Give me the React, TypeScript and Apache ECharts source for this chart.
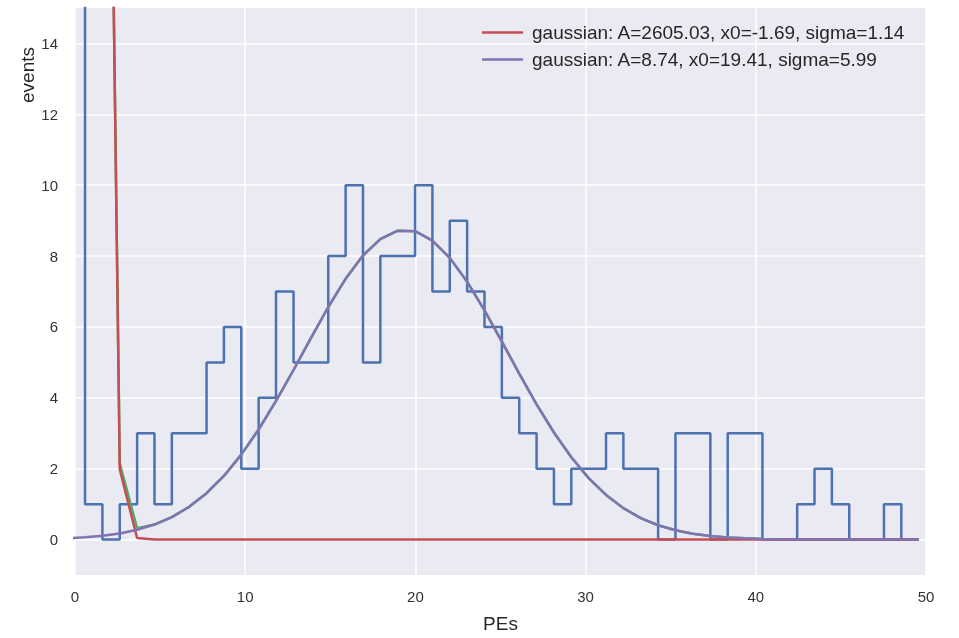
import React, { useEffect, useRef } from "react";
import * as echarts from "echarts";

// Histogram bin edges (PEs) and counts per bin
const binEdges = [
  -0.43, 0.59, 1.61, 2.63, 3.65, 4.67, 5.69, 6.71, 7.73, 8.75,
  9.77, 10.79, 11.81, 12.84, 13.86, 14.88, 15.9, 16.92, 17.94, 18.96,
  19.98, 21.0, 22.02, 23.04, 24.06, 25.08, 26.1, 27.12, 28.14, 29.16,
  30.18, 31.2, 32.22, 33.24, 34.26, 35.28, 36.3, 37.33, 38.35, 39.37,
  40.39, 41.41, 42.43, 43.45, 44.47, 45.49, 46.51, 47.53, 48.55, 49.57,
];
const binCounts = [
  1400, 1, 0, 1, 3, 1, 3, 3, 5, 6,
  2, 4, 7, 5, 5, 8, 10, 5, 8, 8,
  10, 7, 9, 7, 6, 4, 3, 2, 1, 2,
  2, 3, 2, 2, 0, 3, 3, 0, 3, 3,
  0, 0, 1, 2, 1, 0, 0, 1, 0,
];
// Fit curves sampled at the bin edges
const fitPedestal = [
  1414.3, 352.5, 39.4, 1.98, 0.044, 0.0005, 0, 0, 0, 0,
  0, 0, 0, 0, 0, 0, 0, 0, 0, 0,
  0, 0, 0, 0, 0, 0, 0, 0, 0, 0,
  0, 0, 0, 0, 0, 0, 0, 0, 0, 0,
  0, 0, 0, 0, 0, 0, 0, 0, 0, 0,
];
const fitSignal = [
  0.036, 0.063, 0.106, 0.173, 0.275, 0.424, 0.635, 0.924, 1.308, 1.795,
  2.397, 3.106, 3.912, 4.785, 5.686, 6.563, 7.358, 8.015, 8.48, 8.715,
  8.701, 8.438, 7.949, 7.275, 6.467, 5.584, 4.685, 3.817, 3.021, 2.323,
  1.735, 1.259, 0.887, 0.607, 0.404, 0.261, 0.164, 0.1, 0.059, 0.034,
  0.019, 0.01, 0.005, 0.003, 0.001, 0.001, 0, 0, 0, 0,
];
const fitSum = [
  1414.34, 352.56, 39.51, 2.15, 0.319, 0.424, 0.635, 0.924, 1.308, 1.795,
  2.397, 3.106, 3.912, 4.785, 5.686, 6.563, 7.358, 8.015, 8.48, 8.715,
  8.701, 8.438, 7.949, 7.275, 6.467, 5.584, 4.685, 3.817, 3.021, 2.323,
  1.735, 1.259, 0.887, 0.607, 0.404, 0.261, 0.164, 0.1, 0.059, 0.034,
  0.019, 0.01, 0.005, 0.003, 0.001, 0.001, 0, 0, 0, 0,
];
const yTicks = [0, 2, 4, 6, 8, 10, 12, 14];
const legendNames = [
  "gaussian: A=2605.03, x0=-1.69, sigma=1.14",
  "gaussian: A=8.74, x0=19.41, sigma=5.99",
];

const FONT = '"Liberation Sans", Arial, sans-serif';

export default function App() {
  const ref = useRef<HTMLDivElement>(null);
  useEffect(() => {
    const chart = echarts.init(ref.current!, null, { renderer: "svg" });
    const stepPts: number[][] = [[binEdges[0], 0]];
    binCounts.forEach((c, i) => {
      stepPts.push([binEdges[i], c]);
      stepPts.push([binEdges[i + 1], c]);
    });
    stepPts.push([binEdges[binEdges.length - 1], 0]);
    const curve = (vals: number[]) => binEdges.map((x, i) => [x, vals[i]]);
    const lineSeries = (name: string, color: string, data: number[][], z: number) => ({
      type: "line",
      name,
      data,
      showSymbol: false,
      symbol: "none",
      clip: true,
      z,
      lineStyle: { color, width: 2.5 },
      itemStyle: { color },
      emphasis: { disabled: true },
    });
    chart.setOption({
      animation: false,
      textStyle: { fontFamily: FONT },
      grid: {
        left: 75,
        right: 33,
        top: 8,
        bottom: 59,
        show: true,
        backgroundColor: "#EAEAF2",
        borderWidth: 0,
      },
      legend: {
        data: legendNames,
        orient: "vertical",
        left: 477,
        top: 17,
        icon: "rect",
        itemWidth: 41,
        itemHeight: 2.5,
        itemGap: 6,
        textStyle: { fontSize: 19, lineHeight: 21, color: "#262626", fontFamily: FONT, padding: [0, 0, 0, 4] },
      },
      xAxis: {
        type: "value",
        min: 0,
        max: 50,
        interval: 10,
        name: "PEs",
        nameLocation: "middle",
        nameGap: 39,
        nameTextStyle: { fontSize: 19, color: "#262626", fontFamily: FONT },
        axisLine: { show: false },
        axisTick: { show: false },
        axisLabel: { fontSize: 15, color: "#333", margin: 14, fontFamily: FONT },
        splitLine: { show: true, lineStyle: { color: "#ffffff", width: 1.5 } },
      },
      yAxis: {
        type: "value",
        min: -1,
        max: 15,
        axisLine: { show: false },
        axisTick: { show: false, customValues: yTicks },
        axisLabel: { fontSize: 15, color: "#333", margin: 17, fontFamily: FONT, customValues: yTicks },
        splitLine: { show: true, lineStyle: { color: "#ffffff", width: 1.5 } },
      },
      graphic: [
        {
          type: "text",
          x: 27,
          y: 75,
          rotation: Math.PI / 2,
          style: {
            text: "events",
            fontSize: 19,
            fontFamily: FONT,
            fill: "#262626",
            textAlign: "center",
            textVerticalAlign: "middle",
          },
        },
      ],
      series: [
        lineSeries("histogram", "#4C72B0", stepPts, 2),
        lineSeries("sum", "#55A868", curve(fitSum), 3),
        lineSeries(legendNames[0], "#C44E52", curve(fitPedestal), 4),
        lineSeries(legendNames[1], "#8172B2", curve(fitSignal), 5),
      ],
    });
    return () => chart.dispose();
  }, []);
  return <div ref={ref} style={{ position: "fixed", left: 0, top: 0, width: 959, height: 638 }} />;
}
